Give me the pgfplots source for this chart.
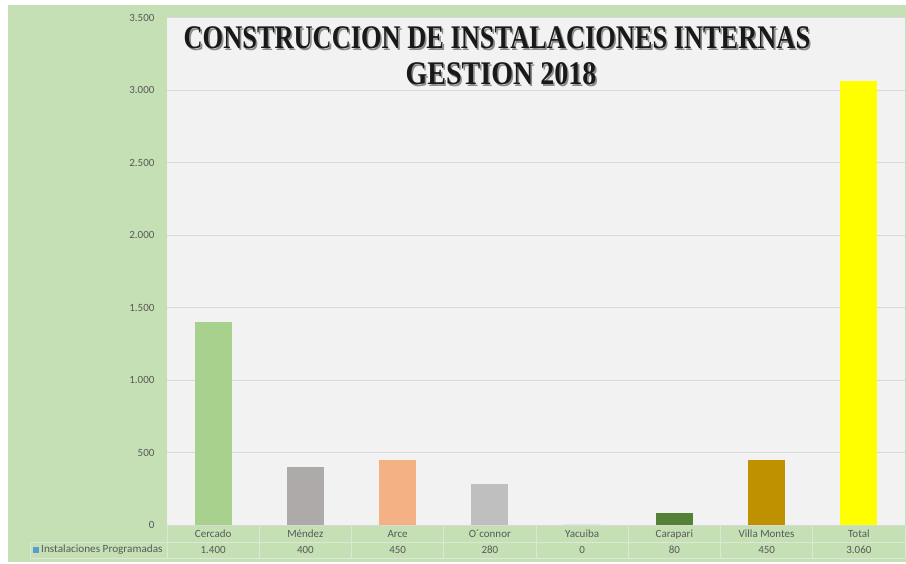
\documentclass[border=0pt]{standalone}
\usepackage{pgfplots}
\pgfplotsset{compat=1.18}
\usepackage{fontspec}
\setmainfont{Carlito}
\newfontfamily\titlefont{Liberation Serif}
\definecolor{bggreen}{HTML}{C5E0B4}
\definecolor{plotbg}{HTML}{F2F2F2}
\definecolor{gridc}{HTML}{D9D9D9}
\definecolor{tickc}{HTML}{595959}
\definecolor{tabline}{HTML}{DCE8D3}
\definecolor{cCercado}{HTML}{A9D18E}
\definecolor{cMendez}{HTML}{AEAAAA}
\definecolor{cArce}{HTML}{F4B183}
\definecolor{cOconnor}{HTML}{BFBFBF}
\definecolor{cYacuiba}{HTML}{5B9BD5}
\definecolor{cCarapari}{HTML}{538135}
\definecolor{cVilla}{HTML}{BF9000}
\definecolor{cTotal}{HTML}{FFFF00}
\definecolor{legblue}{HTML}{5B9BD5}
\newcommand{\rs}{\rule{0pt}{11pt}}
\begin{document}
\begin{tikzpicture}[x=1pt,y=1pt]
\fill[white] (0,0) rectangle (906,563);
\fill[bggreen] (8,1) rectangle (906,558);
\fill[plotbg] (167,37) rectangle (905,545);
\begin{axis}[
  at={(167pt,38pt)}, anchor=south west,
  scale only axis, width=738pt, height=507.5pt,
  xmin=-0.5, xmax=7.5, ymin=0, ymax=3500,
  axis line style={draw=none},
  major tick length=0pt,
  ytick={0,500,...,3500},
  ymajorgrids, grid style={gridc, line width=0.8pt},
  /pgf/number format/.cd, 1000 sep={.}, assume math mode=true,
  /pgfplots/.cd,
  yticklabel style={font=\fontsize{11}{13}\selectfont, text=tickc, xshift=-9pt},
  xtick={0,1,2,3,4,5,6,7},
  xticklabels={{\rs Cercado\\1.400},{\rs Méndez\\400},{\rs Arce\\450},{\rs O´connor\\280},{\rs Yacuiba\\0},{\rs Carapari\\80},{\rs Villa Montes\\450},{\rs Total\\3.060}},
  xticklabel style={font=\fontsize{11}{16}\selectfont, text=tickc, align=center, anchor=north, inner sep=0pt, yshift=-1.5pt},
  bar width=37pt,
]
\addplot[ybar, fill=cCercado, draw=none] coordinates {(0,1400)};
\addplot[ybar, fill=cMendez, draw=none] coordinates {(1,400)};
\addplot[ybar, fill=cArce, draw=none] coordinates {(2,450)};
\addplot[ybar, fill=cOconnor, draw=none] coordinates {(3,280)};
\addplot[ybar, fill=cYacuiba, draw=none] coordinates {(4,0)};
\addplot[ybar, fill=cCarapari, draw=none] coordinates {(5,80)};
\addplot[ybar, fill=cVilla, draw=none] coordinates {(6,450)};
\addplot[ybar, fill=cTotal, draw=none] coordinates {(7,3060)};
\end{axis}
% data table lines
\foreach \k in {0,...,8} {
  \draw[tabline, line width=0.8pt] ({167+92.25*\k},37) -- ({167+92.25*\k},5);
}
\draw[tabline, line width=0.8pt] (30,21) -- (905,21);
\draw[tabline, line width=0.8pt] (30,5) -- (905,5);
\draw[tabline, line width=0.8pt] (30,21) -- (30,5);
\fill[legblue] (33,10) rectangle (39,16);
\node[anchor=west, inner sep=0pt, font=\fontsize{11}{13}\selectfont, text=tickc, xscale=1.02] at (41,13) {Instalaciones Programadas};
% title
\foreach \dx/\dy/\c in {1.6/-1.6/black!45, 0/0/black!90} {
  \node[xscale=0.8, font=\titlefont\bfseries\fontsize{33}{36}\selectfont, text=\c] at ({497+\dx},{525+\dy}) {CONSTRUCCION DE INSTALACIONES INTERNAS};
  \node[xscale=0.85, font=\titlefont\bfseries\fontsize{33}{36}\selectfont, text=\c] at ({501+\dx},{489+\dy}) {GESTION 2018};
}
\end{tikzpicture}
\end{document}
